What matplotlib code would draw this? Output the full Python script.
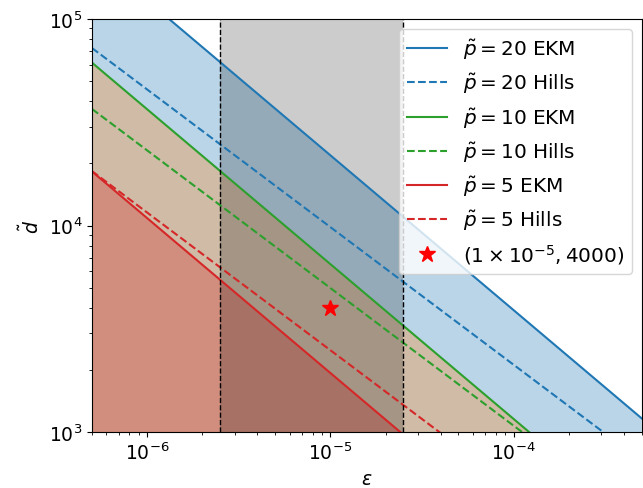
import numpy as np
import matplotlib
matplotlib.use("Agg")
import matplotlib.pyplot as plt

# x-range endpoints (epsilon)
eps_ends = [5e-7, 5e-4]

# d-tilde values of each line at the two x endpoints
ekm_20 = [207000, 1164]
ekm_10 = [61500, 346]
ekm_5 = [18270, 102.7]
hills_20 = [72400, 724]
hills_10 = [36700, 367]
hills_5 = [18350, 183.5]

# vertical band
band = [2.5e-6, 2.5e-5]

# star point
star_x = [1e-5]
star_y = [4000]

plt.rcParams['font.size'] = 13.5

fig = plt.figure(figsize=(6.43, 4.89), dpi=100)
ax = fig.add_axes([0.143, 0.1145, 0.855, 0.8445])

ax.set_xscale('log')
ax.set_yscale('log')

ax.plot(eps_ends, ekm_20, color='C0', lw=1.5, label=r'$\tilde{p}=20$ EKM')
ax.plot(eps_ends, hills_20, color='C0', lw=1.5, ls='--', label=r'$\tilde{p}=20$ Hills')
ax.plot(eps_ends, ekm_10, color='C2', lw=1.5, label=r'$\tilde{p}=10$ EKM')
ax.plot(eps_ends, hills_10, color='C2', lw=1.5, ls='--', label=r'$\tilde{p}=10$ Hills')
ax.plot(eps_ends, ekm_5, color='C3', lw=1.5, label=r'$\tilde{p}=5$ EKM')
ax.plot(eps_ends, hills_5, color='C3', lw=1.5, ls='--', label=r'$\tilde{p}=5$ Hills')

ax.fill_between(eps_ends, ekm_20, 1e2, color='C0', alpha=0.3, lw=0)
ax.fill_between(eps_ends, ekm_10, 1e2, color='C1', alpha=0.3, lw=0)
ax.fill_between(eps_ends, ekm_5, 1e2, color='C3', alpha=0.3, lw=0)

ax.axvspan(band[0], band[1], color='k', alpha=0.2, lw=0)
ax.axvline(band[0], color='k', ls='--', lw=1)
ax.axvline(band[1], color='k', ls='--', lw=1)

ax.plot(star_x, star_y, ls='none', marker='*', color='red', markersize=12,
        label=r'$(1\times10^{-5}, 4000)$')

ax.set_xlim(eps_ends[0], eps_ends[1])
ax.set_ylim(1e3, 1e5)
ax.set_xlabel(r'$\varepsilon$')
ax.set_ylabel(r'$\tilde{d}$')
ax.legend(loc='upper right', fontsize=14.4)

fig.savefig('out.png', dpi=100)
